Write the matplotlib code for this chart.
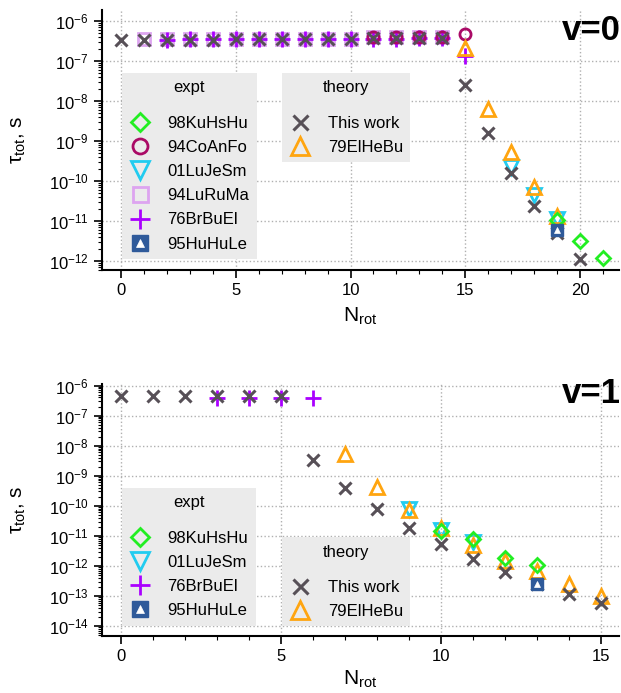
import numpy as np
import matplotlib
matplotlib.use("Agg")
import matplotlib.pyplot as plt
from matplotlib.lines import Line2D
from matplotlib.ticker import LogLocator, MultipleLocator, NullFormatter

plt.rcParams['font.family'] = ['Liberation Sans', 'DejaVu Sans']
plt.rcParams['mathtext.fontset'] = 'custom'
plt.rcParams['mathtext.rm'] = 'Liberation Sans'
plt.rcParams['mathtext.it'] = 'Liberation Sans:italic'
plt.rcParams['font.size'] = 12

# ---- v = 0 ----
n_tw0 = list(range(0, 21))
tw0 = [3.35e-7, 3.4e-7, 3.3e-7, 3.4e-7, 3.4e-7, 3.45e-7, 3.5e-7, 3.5e-7, 3.55e-7, 3.6e-7,
       3.6e-7, 3.7e-7, 3.7e-7, 3.75e-7, 3.7e-7, 2.5e-8, 1.55e-9, 1.6e-10, 2.4e-11, 4.9e-12, 1.15e-12]
n_elhebu0 = [15, 16, 17, 18, 19]
elhebu0 = [2.1e-7, 6.4e-9, 5.4e-10, 6.9e-11, 1.3e-11]
n_kuhshu0 = [19, 20, 21]
kuhshu0 = [1.05e-11, 3.1e-12, 1.2e-12]
n_coanfo0 = [11, 12, 13, 14, 15]
coanfo0 = [4.0e-7, 4.0e-7, 4.0e-7, 4.0e-7, 4.6e-7]
n_lujesm0 = [17, 18, 19]
lujesm0 = [2.2e-10, 4.5e-11, 1.1e-11]
n_luruma0 = list(range(1, 15))
luruma0 = [3.5e-7] * 10 + [3.9e-7] * 4
n_brbuel0 = list(range(2, 16))
brbuel0 = [3.4e-7, 3.45e-7, 3.45e-7, 3.5e-7, 3.5e-7, 3.5e-7, 3.55e-7, 3.6e-7, 3.6e-7,
           3.65e-7, 3.65e-7, 3.7e-7, 3.7e-7, 1.3e-7]
n_huhule0 = [19]
huhule0 = [6e-12]

# ---- v = 1 ----
n_tw1 = list(range(0, 16))
tw1 = [4.6e-7] * 6 + [3.3e-9, 4e-10, 7.6e-11, 1.85e-11, 5.2e-12, 1.7e-12, 6.3e-13, 2.6e-13, 1.2e-13, 6e-14]
n_elhebu1 = [7, 8, 9, 10, 11, 12, 13, 14, 15]
elhebu1 = [5.2e-9, 4.3e-10, 7.3e-11, 1.8e-11, 4.9e-12, 1.5e-12, 6.8e-13, 2.6e-13, 1.0e-13]
n_kuhshu1 = [10, 11, 12, 13]
kuhshu1 = [1.45e-11, 8.1e-12, 1.8e-12, 1.05e-12]
n_lujesm1 = [9, 10, 11]
lujesm1 = [8.1e-11, 1.6e-11, 6.3e-12]
n_brbuel1 = [3, 4, 5, 6]
brbuel1 = [3.8e-7] * 4
n_huhule1 = [13]
huhule1 = [2.6e-13]

c_tw = '#575057'
c_elhebu = '#ffa510'
c_kuhshu = '#22ee22'
c_coanfo = '#aa0a66'
c_lujesm = '#22ccf0'
c_luruma = '#dda4f0'
c_brbuel = '#aa00ff'
c_huhule = '#2f5a9a'

sty = {
    'kuhshu': dict(marker='D', ms=7, mfc='none', mec=c_kuhshu, mew=2, ls='none'),
    'coanfo': dict(marker='o', ms=8, mfc='none', mec=c_coanfo, mew=2, ls='none'),
    'lujesm': dict(marker='v', ms=10, mfc='none', mec=c_lujesm, mew=2, ls='none'),
    'luruma': dict(marker='s', ms=8, mfc='none', mec=c_luruma, mew=2, ls='none'),
    'brbuel': dict(marker='+', ms=11, mec=c_brbuel, mew=2, ls='none'),
    'huhule': dict(marker='s', ms=9, mfc=c_huhule, mec=c_huhule, mew=1, ls='none'),
    'huhule_in': dict(marker='^', ms=4, mfc='white', mec='white', mew=0.5, ls='none'),
    'tw': dict(marker='x', ms=8, mec=c_tw, mew=2.2, ls='none'),
    'elhebu': dict(marker='^', ms=10, mfc='none', mec=c_elhebu, mew=2, ls='none'),
}

fig = plt.figure(figsize=(6.21, 6.93), dpi=100)
ax0 = fig.add_axes([102 / 621, (693 - 270) / 693, 517 / 621, 260 / 693])
ax1 = fig.add_axes([102 / 621, (693 - 636) / 693, 517 / 621, 252 / 693])


def style_axes(ax, xlim, ylim, xlab_y):
    ax.set_yscale('log')
    ax.set_xlim(*xlim)
    ax.set_ylim(*ylim)
    ax.yaxis.set_major_locator(LogLocator(base=10, numticks=30))
    ax.yaxis.set_minor_locator(LogLocator(base=10, subs=np.arange(2, 10), numticks=30))
    ax.yaxis.set_minor_formatter(NullFormatter())
    ax.xaxis.set_major_locator(MultipleLocator(5))
    ax.xaxis.set_minor_locator(MultipleLocator(1))
    ax.xaxis.set_minor_formatter(NullFormatter())
    ax.spines['top'].set_visible(False)
    ax.spines['right'].set_visible(False)
    ax.spines['left'].set_linewidth(1.5)
    ax.spines['bottom'].set_linewidth(1.5)
    ax.tick_params(which='major', direction='out', length=6, width=1.2, labelsize=12)
    ax.tick_params(which='minor', direction='out', length=3, width=0.8)
    ax.grid(True, which='major', ls=':', color='#b0b0b0', lw=1)
    ax.set_axisbelow(True)
    ax.set_xlabel(r'N$_{\mathrm{rot}}$', fontsize=15)
    ax.set_ylabel(r'τ$_{\mathrm{tot}}$, s', fontsize=15)
    ax.xaxis.set_label_coords(0.5, xlab_y)
    ax.yaxis.set_label_coords(-0.143, 0.5)


style_axes(ax0, (-0.83, 21.7), (10 ** -12.225, 10 ** -5.725), -0.136)
style_axes(ax1, (-0.59, 15.55), (10 ** -14.33, 10 ** -5.95), -0.13)

# v=0 plots
ax0.plot(n_luruma0, luruma0, **sty['luruma'])
ax0.plot(n_brbuel0, brbuel0, **sty['brbuel'])
ax0.plot(n_coanfo0, coanfo0, **sty['coanfo'])
ax0.plot(n_lujesm0, lujesm0, **sty['lujesm'])
ax0.plot(n_elhebu0, elhebu0, **sty['elhebu'])
ax0.plot(n_kuhshu0, kuhshu0, **sty['kuhshu'])
ax0.plot(n_tw0, tw0, **sty['tw'])
ax0.plot(n_huhule0, huhule0, **sty['huhule'])
ax0.plot(n_huhule0, huhule0, **sty['huhule_in'])

# v=1 plots
ax1.plot(n_brbuel1, brbuel1, **sty['brbuel'])
ax1.plot(n_lujesm1, lujesm1, **sty['lujesm'])
ax1.plot(n_elhebu1, elhebu1, **sty['elhebu'])
ax1.plot(n_kuhshu1, kuhshu1, **sty['kuhshu'])
ax1.plot(n_tw1, tw1, **sty['tw'])
ax1.plot(n_huhule1, huhule1, **sty['huhule'])
ax1.plot(n_huhule1, huhule1, **sty['huhule_in'])


def h(key, scale=1.35):
    d = dict(sty[key])
    d['ms'] = d['ms'] * scale
    return Line2D([], [], **d)


def add_legend(ax, handles, labels, title, x, y):
    leg = ax.legend(handles, labels, title=title, loc='upper left', bbox_to_anchor=(x, y),
                    frameon=True, fancybox=False, facecolor='#ebebeb', edgecolor='none',
                    framealpha=1, fontsize=12, title_fontsize=12, borderpad=0.45,
                    handlelength=1.25, handletextpad=1.05, labelspacing=0.55,
                    borderaxespad=0)
    # extra room between the title and the entries
    leg._legend_box.sep = 0.55 * 12 + 8
    ax.add_artist(leg)
    return leg


hd_huhule = (h('huhule'), h('huhule_in'))

add_legend(ax0,
           [h('kuhshu'), h('coanfo'), h('lujesm'), h('luruma'), h('brbuel'), hd_huhule],
           ['98KuHsHu', '94CoAnFo', '01LuJeSm', '94LuRuMa', '76BrBuEl', '95HuHuLe'],
           'expt', 0.038, 0.758)
add_legend(ax0, [h('tw'), h('elhebu')], ['This work', '79ElHeBu'], 'theory', 0.348, 0.758)

add_legend(ax1,
           [h('kuhshu'), h('lujesm'), h('brbuel'), hd_huhule],
           ['98KuHsHu', '01LuJeSm', '76BrBuEl', '95HuHuLe'],
           'expt', 0.038, (636 - 488) / 252)
add_legend(ax1, [h('tw'), h('elhebu')], ['This work', '79ElHeBu'], 'theory', 0.348, (636 - 537) / 252)

fig.text(0.999, (693 - 40) / 693, 'v=0', ha='right', va='baseline', fontsize=25, fontweight='bold')
fig.text(0.999, (693 - 403) / 693, 'v=1', ha='right', va='baseline', fontsize=25, fontweight='bold')

fig.savefig('out.png', dpi=100)
